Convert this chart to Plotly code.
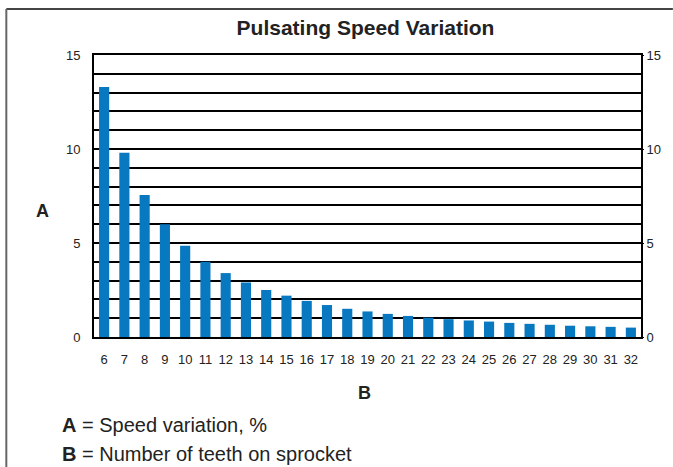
import plotly.graph_objects as go

teeth = [str(t) for t in range(6, 33)]
variation = [13.3, 9.8, 7.55, 6.0, 4.85, 4.0, 3.4, 2.9, 2.5, 2.2, 1.92, 1.7, 1.5,
             1.36, 1.23, 1.12, 1.03, 0.95, 0.88, 0.82, 0.75, 0.7, 0.65, 0.6, 0.57,
             0.54, 0.5]
y_ticks = list(range(0, 16))
y_labels = [str(v) if v % 5 == 0 else "" for v in y_ticks]
side_ticks = [0, 5, 10, 15]

W, H = 673, 467
L, R, T, B = 94, 643, 55, 337
pw, ph = R - L, B - T

def px(x):
    return (x - L) / pw

def py(y):
    return (B - y) / ph

FONT = "Liberation Sans, Arial, sans-serif"

fig = go.Figure()
fig.add_trace(go.Bar(x=teeth, y=variation, marker=dict(color="#0878c0", line=dict(width=0)),
                     hoverinfo="x+y"))
fig.add_trace(go.Scatter(x=teeth, y=variation, yaxis="y2", mode="markers",
                         marker=dict(opacity=0), hoverinfo="skip", showlegend=False))

fig.update_layout(
    width=W, height=H,
    margin=dict(l=L, r=W - R, t=T, b=H - B, pad=0),
    paper_bgcolor="white", plot_bgcolor="white",
    showlegend=False,
    bargap=0.5,
    font=dict(family=FONT, size=13, color="#222"),
    title=dict(text="<b>Pulsating Speed Variation</b>", x=365.5 / W, xanchor="center",
               y=1 - 28 / H, yanchor="middle", font=dict(size=21, family=FONT, color="#222")),
    xaxis=dict(type="category", range=[-0.5, len(teeth) - 0.5], showgrid=False,
               showline=True, mirror=True,
               linecolor="black", linewidth=2, ticks="outside", ticklen=9,
               tickcolor="rgba(0,0,0,0)", tickfont=dict(size=13, color="#222"),
               zeroline=False, fixedrange=True),
    yaxis=dict(range=[0, 15], tickmode="array", tickvals=y_ticks, ticktext=y_labels,
               showgrid=True, gridcolor="black", gridwidth=2, showline=True,
               mirror=True, linecolor="black", linewidth=2, ticks="outside",
               ticklen=9, tickcolor="rgba(0,0,0,0)", zeroline=False,
               tickfont=dict(size=13, color="#222"), fixedrange=True),
    yaxis2=dict(range=[0, 15], overlaying="y", side="right", tickmode="array",
                tickvals=side_ticks, showgrid=False, showline=False, zeroline=False,
                ticks="outside", ticklen=2, tickcolor="black",
                tickfont=dict(size=13, color="#222"), fixedrange=True),
    shapes=[
        dict(type="line", xref="paper", yref="paper", x0=px(6), x1=px(W + 2),
             y0=py(9), y1=py(9), line=dict(color="#444", width=2)),
        dict(type="line", xref="paper", yref="paper", x0=px(6), x1=px(6),
             y0=py(9), y1=py(H + 2), line=dict(color="#666", width=2)),
    ],
    annotations=[
        dict(text="<b>A</b>", xref="paper", yref="paper", x=px(42), y=py(211),
             xanchor="center", yanchor="middle", showarrow=False,
             font=dict(size=18, family=FONT, color="#222")),
        dict(text="<b>B</b>", xref="paper", yref="paper", x=px(365), y=py(393),
             xanchor="center", yanchor="middle", showarrow=False,
             font=dict(size=18, family=FONT, color="#222")),
        dict(text="<b>A</b> = Speed variation, %", xref="paper", yref="paper",
             x=px(60), y=py(425), xanchor="left", yanchor="middle", showarrow=False,
             font=dict(size=20, family=FONT, color="#222")),
        dict(text="<b>B</b> = Number of teeth on sprocket", xref="paper", yref="paper",
             x=px(60), y=py(454), xanchor="left", yanchor="middle", showarrow=False,
             font=dict(size=20, family=FONT, color="#222")),
    ],
)

fig.write_html("out.html", config={"displayModeBar": False},
               post_script="document.body.style.margin='0';document.body.style.overflow='hidden';")
